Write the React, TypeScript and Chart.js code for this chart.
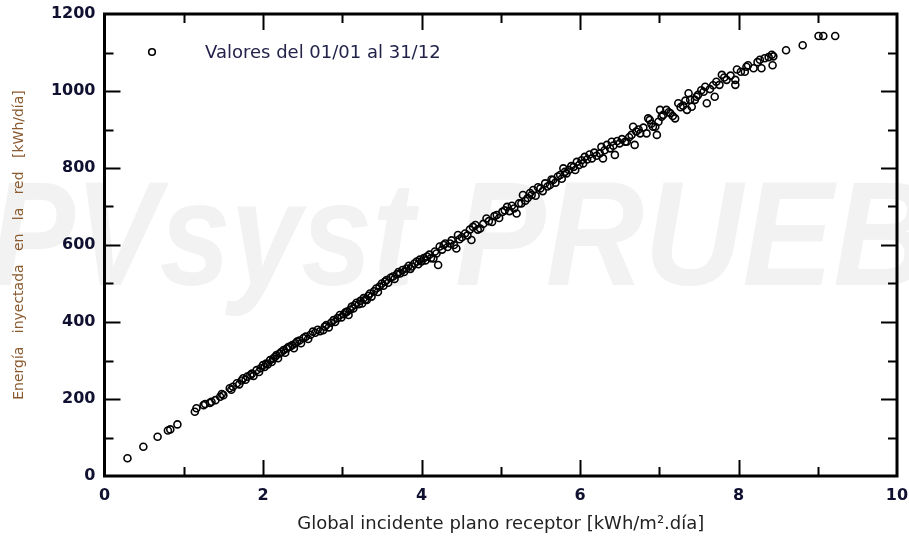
import React, { useEffect, useRef } from "react";
import { Chart, registerables } from "chart.js";

Chart.register(...registerables);

// Global incidente plano receptor [kWh/m².día]
const X_VALUES: number[] = [
  0.29, 0.49, 0.67, 0.8, 0.83, 0.92,
  1.14, 1.16, 1.25, 1.27, 1.33, 1.35, 1.4, 1.46, 1.48, 1.5,
  1.58, 1.6, 1.62, 1.67, 1.7, 1.73, 1.75, 1.78, 1.8, 1.84, 1.86, 1.88, 1.92, 1.95, 1.97,
  2.0, 2.02, 2.04, 2.06, 2.09, 2.11, 2.13, 2.15, 2.17, 2.19, 2.21, 2.23, 2.26, 2.28, 2.3, 2.32, 2.34, 2.37, 2.39, 2.41, 2.43, 2.46, 2.48, 2.51, 2.54, 2.57, 2.6, 2.63, 2.66, 2.69, 2.72, 2.76, 2.78, 2.8, 2.83, 2.86, 2.89, 2.91, 2.94, 2.97, 2.99,
  3.02, 3.04, 3.06, 3.08, 3.1, 3.12, 3.14, 3.16, 3.18, 3.21, 3.23, 3.25, 3.27, 3.29, 3.31, 3.33, 3.35, 3.37, 3.4, 3.43, 3.45, 3.47, 3.5, 3.52, 3.54, 3.56, 3.58, 3.61, 3.64, 3.66, 3.69, 3.71, 3.73, 3.76, 3.78, 3.81, 3.84, 3.86, 3.88, 3.91, 3.94, 3.96, 3.98,
  4.0, 4.03, 4.05, 4.07, 4.1, 4.12, 4.15, 4.17, 4.19, 4.21, 4.23, 4.26, 4.28, 4.3, 4.33, 4.36, 4.38, 4.41, 4.44, 4.46, 4.48, 4.51, 4.55, 4.58, 4.61, 4.63, 4.65, 4.68, 4.71, 4.74, 4.78, 4.82, 4.85, 4.89, 4.92, 4.95, 4.98,
  5.02, 5.05, 5.08, 5.11, 5.14, 5.17, 5.2, 5.23, 5.26, 5.28, 5.31, 5.34, 5.37, 5.39, 5.41, 5.44, 5.47, 5.5, 5.53, 5.56, 5.59, 5.62, 5.64, 5.66, 5.69, 5.72, 5.75, 5.77, 5.79, 5.81, 5.83, 5.86, 5.89, 5.92, 5.94, 5.96, 5.99,
  6.02, 6.04, 6.06, 6.09, 6.12, 6.15, 6.18, 6.21, 6.25, 6.27, 6.29, 6.31, 6.34, 6.38, 6.4, 6.42, 6.44, 6.47, 6.5, 6.53, 6.57, 6.59, 6.62, 6.65, 6.67, 6.69, 6.71, 6.74, 6.76, 6.8, 6.84, 6.86, 6.88, 6.9, 6.92, 6.95, 6.97, 6.99,
  7.01, 7.03, 7.05, 7.09, 7.12, 7.14, 7.17, 7.2, 7.24, 7.27, 7.3, 7.33, 7.35, 7.37, 7.39, 7.41, 7.45, 7.47, 7.49, 7.53, 7.56, 7.58, 7.6, 7.64, 7.68, 7.7, 7.72, 7.76, 7.79, 7.82, 7.85, 7.9, 7.96, 7.96, 7.98,
  8.03, 8.08, 8.1, 8.12, 8.19, 8.24, 8.27, 8.29, 8.33, 8.38, 8.42, 8.43, 8.44, 8.6, 8.81,
  9.01, 9.07, 9.22,
];

// Energía inyectada en la red [kWh/día]
const Y_VALUES: number[] = [
  46, 76, 102, 118, 121, 134,
  167, 176, 184, 187, 190, 193, 197, 206, 213, 210,
  228, 224, 232, 241, 238, 248, 254, 250, 258, 262, 266, 260, 275, 270, 280,
  288, 283, 292, 290, 301, 296, 305, 309, 314, 306, 318, 322, 327, 320, 331, 335, 336, 340, 332, 345, 349, 352, 345, 358, 362, 356, 367, 375, 372, 380, 376, 379, 388, 392, 386, 398, 405, 400, 410, 418, 412,
  420, 425, 427, 418, 432, 440, 435, 444, 450, 446, 455, 448, 462, 458, 457, 468, 474, 466, 480, 487, 478, 492, 500, 494, 505, 509, 502, 515, 518, 512, 524, 530, 526, 535, 530, 539, 546, 538, 544, 552, 557, 550, 562,
  557, 566, 560, 570, 575, 566, 565, 583, 578, 548, 596, 588, 600, 604, 595, 604, 612, 600, 591, 626, 615, 620, 630, 625, 640, 613, 647, 652, 640, 643, 655, 669, 662, 660, 675, 678, 670,
  686, 690, 699, 688, 702, 695, 682, 708, 708, 730, 715, 722, 735, 730, 743, 728, 750, 747, 740, 760, 752, 756, 770, 769, 762, 778, 782, 772, 799, 790, 786, 795, 805, 803, 795, 816, 808,
  820, 812, 829, 822, 835, 825, 840, 832, 838, 855, 825, 846, 860, 851, 868, 858, 834, 870, 864, 875, 868, 868, 880, 886, 907, 860, 895, 900, 890, 905, 890, 929, 925, 915, 907, 907, 886, 920,
  951, 933, 938, 951, 945, 942, 935, 929, 968, 958, 962, 975, 951, 994, 977, 959, 977, 985, 990, 1002, 998, 1011, 968, 1005, 1015, 985, 1024, 1016, 1042, 1035, 1029, 1040, 1029, 1016, 1056,
  1050, 1050, 1063, 1067, 1059, 1075, 1081, 1059, 1085, 1088, 1094, 1067, 1090, 1106, 1119,
  1143, 1143, 1143,
];

const X_MAJOR_TICKS = [0, 2, 4, 6, 8, 10];
const Y_MAJOR_TICKS = [0, 200, 400, 600, 800, 1000, 1200];

const LEGEND_LABEL = "Valores del 01/01 al 31/12";
const X_TITLE = "Global incidente plano receptor [kWh/m².día]";
const Y_TITLE = "Energía   inyectada   en   la   red   [kWh/día]";
const WATERMARK_A = "PVsyst";
const WATERMARK_B = "PRUEBA";

const FONT = "'DejaVu Sans', 'Liberation Sans', Arial, sans-serif";
const WM_FONT = "'Liberation Sans', Arial, sans-serif";

export default function App() {
  const canvasRef = useRef<HTMLCanvasElement | null>(null);

  useEffect(() => {
    const canvas = canvasRef.current;
    if (!canvas) return;
    const points = X_VALUES.map((x, i) => ({ x, y: Y_VALUES[i] }));

    const watermarkPlugin = {
      id: "watermark",
      beforeDraw(chart: any) {
        const ctx = chart.ctx;
        ctx.save();
        ctx.fillStyle = "#f2f2f2";
        ctx.font = `italic bold 148px ${WM_FONT}`;
        ctx.textBaseline = "alphabetic";
        ctx.textAlign = "left";
        ctx.save();
        ctx.translate(-10, 285);
        ctx.scale(0.86, 1);
        ctx.fillText(WATERMARK_A, 0, 0);
        ctx.restore();
        ctx.save();
        ctx.translate(455, 285);
        ctx.scale(0.92, 1);
        ctx.fillText(WATERMARK_B, 0, 0);
        ctx.restore();
        ctx.restore();
      },
    };

    const framePlugin = {
      id: "frame",
      afterDraw(chart: any) {
        const ctx = chart.ctx;
        const area = chart.chartArea;
        const xs = chart.scales.x;
        const ys = chart.scales.y;
        ctx.save();
        ctx.strokeStyle = "#000";
        ctx.lineWidth = 2;
        ctx.beginPath();
        for (let v = 1; v < 10; v++) {
          const px = Math.round(xs.getPixelForValue(v)) + 0.5;
          const len = X_MAJOR_TICKS.includes(v) ? 16 : 9;
          ctx.moveTo(px, area.bottom);
          ctx.lineTo(px, area.bottom - len);
          ctx.moveTo(px, area.top);
          ctx.lineTo(px, area.top + len);
        }
        for (let v = 100; v < 1200; v += 100) {
          const py = Math.round(ys.getPixelForValue(v)) + 0.5;
          const len = Y_MAJOR_TICKS.includes(v) ? 16 : 9;
          ctx.moveTo(area.left, py);
          ctx.lineTo(area.left + len, py);
          ctx.moveTo(area.right, py);
          ctx.lineTo(area.right - len, py);
        }
        ctx.stroke();
        ctx.lineWidth = 3;
        ctx.strokeRect(area.left, area.top, area.right - area.left, area.bottom - area.top);

        // legend
        ctx.lineWidth = 1.6;
        ctx.beginPath();
        ctx.arc(152, 52, 3.3, 0, Math.PI * 2);
        ctx.stroke();
        ctx.fillStyle = "#22224a";
        ctx.font = `18px ${FONT}`;
        ctx.textBaseline = "middle";
        ctx.textAlign = "left";
        ctx.fillText(LEGEND_LABEL, 205, 53);
        ctx.restore();
      },
    };

    const chart = new Chart(canvas, {
      type: "scatter",
      data: {
        datasets: [
          {
            label: LEGEND_LABEL,
            data: points,
            pointStyle: "circle",
            pointRadius: 3.5,
            pointBorderWidth: 1.6,
            borderColor: "#000",
            backgroundColor: "rgba(0,0,0,0)",
          },
        ],
      },
      options: {
        animation: false,
        responsive: false,
        devicePixelRatio: 1,
        layout: { padding: { top: 14, right: 12, left: 0, bottom: 0 } },
        plugins: {
          legend: { display: false },
          tooltip: { enabled: false },
        },
        scales: {
          x: {
            type: "linear",
            min: 0,
            max: 10,
            afterFit(scale: any) {
              scale.height = 60;
              scale.paddingLeft = 0;
              scale.paddingRight = 0;
            },
            grid: { display: false, drawTicks: false },
            border: { display: false },
            ticks: {
              stepSize: 2,
              padding: 10,
              color: "#101030",
              font: { family: FONT, size: 16, weight: "bold" },
              callback: (v: any) => String(v),
            },
            title: {
              display: true,
              text: X_TITLE,
              color: "#222",
              font: { family: FONT, size: 18 },
              padding: { top: 0, bottom: 1 },
            },
          },
          y: {
            type: "linear",
            min: 0,
            max: 1200,
            afterFit(scale: any) {
              scale.width = 104.5;
              scale.paddingTop = 0;
              scale.paddingBottom = 0;
            },
            grid: { display: false, drawTicks: false },
            border: { display: false },
            ticks: {
              stepSize: 200,
              padding: 9,
              color: "#101030",
              font: { family: FONT, size: 16, weight: "bold" },
              callback: (v: any) => String(v),
            },
            title: {
              display: true,
              text: Y_TITLE,
              color: "#8a5a30",
              font: { family: FONT, size: 14 },
              padding: { top: 11, bottom: 0 },
            },
          },
        },
      },
      plugins: [watermarkPlugin, framePlugin],
    });

    return () => {
      chart.destroy();
    };
  }, []);

  return (
    <div style={{ position: "fixed", left: 0, top: 0, width: 909, height: 536, background: "#fff" }}>
      <canvas ref={canvasRef} width={909} height={536} style={{ display: "block" }} />
    </div>
  );
}
